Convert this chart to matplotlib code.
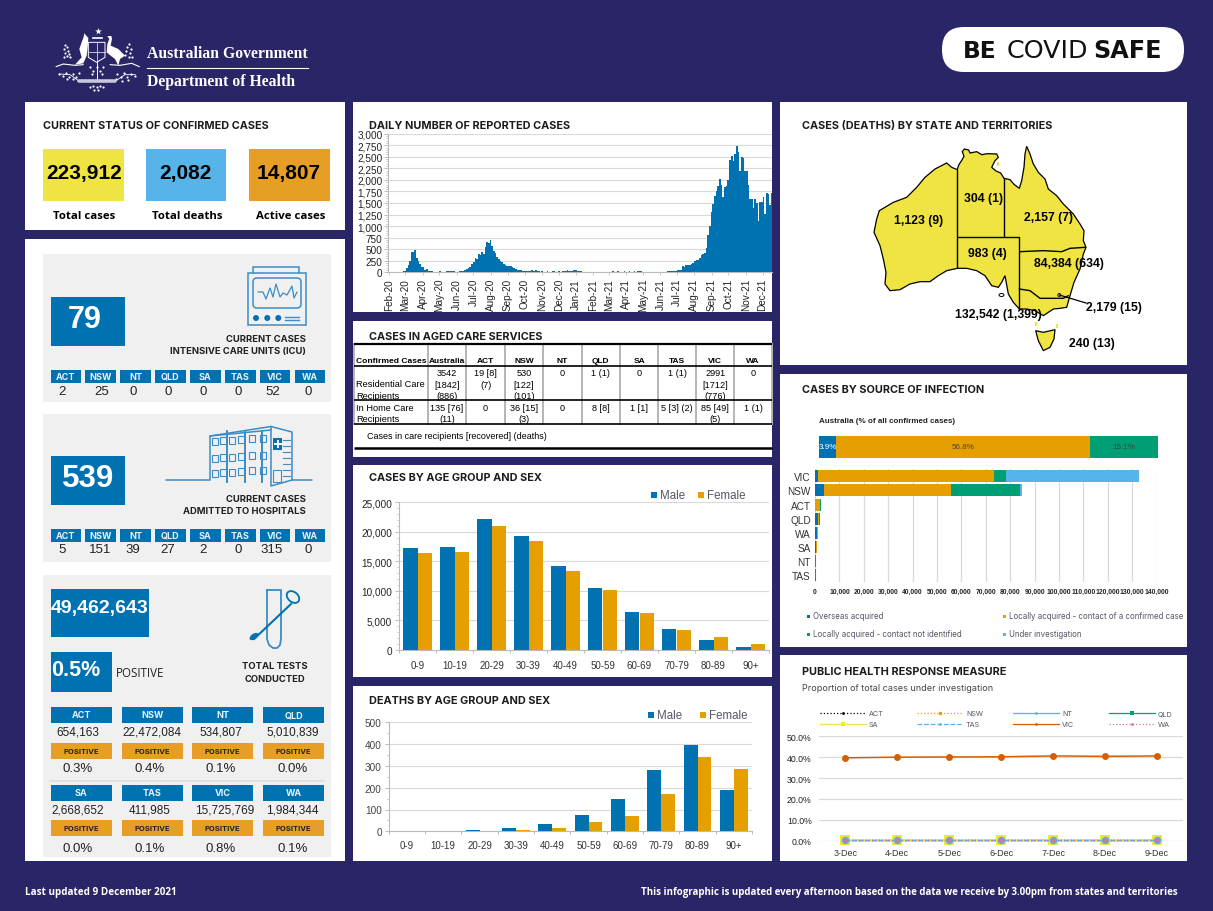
import matplotlib
matplotlib.use("Agg")
import matplotlib.pyplot as plt
import numpy as np
import pandas as pd
from matplotlib.patches import Circle, Ellipse, FancyBboxPatch, Polygon, Rectangle
from matplotlib.ticker import FixedLocator, FuncFormatter, MultipleLocator

W, H = 1213, 912
NAVY = "#2A2566"
BLUE = "#0072B2"
SKY = "#56B4E9"
ORANGE = "#E69F00"
GREEN = "#009E73"
YELLOW = "#F0E442"
AMBER = "#E69F24"
VERM = "#D55E00"
PINK = "#CC79A7"
PANEL_GREY = "#F0F0F0"
GRID = "#D9D9D9"
ICON = "#3A8DC5"
ARIAL = "Liberation Sans"
HEAD = "Inter"

# ── data ──────────────────────────────────────────────────────────────────────
status_values = ["223,912", "2,082", "14,807"]
status_labels = ["Total cases", "Total deaths", "Active cases"]

states = ["ACT", "NSW", "NT", "QLD", "SA", "TAS", "VIC", "WA"]
icu_values = ["2", "25", "0", "0", "0", "0", "52", "0"]
hospital_values = ["5", "151", "39", "27", "2", "0", "315", "0"]
tests_row1 = ["654,163", "22,472,084", "534,807", "5,010,839"]
tests_row2 = ["2,668,652", "411,985", "15,725,769", "1,984,344"]
positive_row1 = ["0.3%", "0.4%", "0.1%", "0.0%"]
positive_row2 = ["0.0%", "0.1%", "0.8%", "0.1%"]

# three-day readings from the daily bars, starting 1 Feb 2020
daily_cases = [
    0, 0, 0, 0, 0, 0, 0, 0, 20, 25,
    90, 160, 250, 440, 430, 490, 310, 250, 190, 120, 110, 60, 70, 30,
    20, 18, 15, 15, 15, 15, 18, 15, 15, 15, 18, 18, 20, 20, 18, 15, 0, 15,
    20, 20, 30, 40, 70, 100, 110, 170, 230,
    310, 290, 390, 380, 440, 400, 550, 650, 640, 690, 560, 470, 420, 340, 290, 250, 220,
    190, 150, 140, 130, 130, 110, 90, 70, 60, 50, 40,
    20, 20, 20, 25, 20, 30, 40, 20, 40, 20, 20, 15, 18, 15, 15, 18, 15, 15, 18, 20, 15, 15,
    18, 15, 20, 18, 20,
    40, 20, 20, 20, 45, 40, 20, 20, 20, 15, 15, 15, 15, 15, 0, 15, 15, 0, 15, 0, 0, 0, 0, 0,
    15, 15, 15, 18, 15, 15, 18, 15, 15, 15, 20, 15, 15, 18, 15, 15, 18, 15, 30, 20, 18, 15,
    15, 15, 15, 15, 0, 0, 0, 0, 15, 15, 15, 0, 15, 15, 18, 20, 18, 20,
    30, 30, 40, 40, 50, 130, 120, 150, 150, 160, 180, 200, 250, 260, 260, 320, 380, 400, 420, 520,
    800, 1000, 1300, 1480, 1660, 1750, 1860, 2030, 1880, 1620, 1840, 1860, 2000, 2430, 2510,
    2400, 2560, 2730, 2600, 2200, 2490, 2470, 2190, 2200, 1900, 1580, 1590, 1400, 1590, 1500,
    1110, 1520, 1530, 1630, 1270, 1710, 1700, 1450, 1720, 1660,
]

age_groups = ["0-9", "10-19", "20-29", "30-39", "40-49", "50-59", "60-69", "70-79", "80-89", "90+"]
cases_male = [17270, 17440, 22180, 19300, 14220, 10500, 6430, 3555, 1690, 510]
cases_female = [16420, 16590, 20990, 18450, 13370, 10160, 6260, 3390, 2200, 1020]
deaths_male = [0, 0, 6, 15, 34, 75, 148, 281, 396, 190]
deaths_female = [0, 0, 1, 6, 15, 43, 70, 171, 341, 286]

source_labels = ["Overseas acquired", "Locally acquired - contact of a confirmed case",
                 "Locally acquired - contact not identified", "Under investigation"]
national_pct = [3.9, 56.8, 15.1]
source_states = ["VIC", "NSW", "ACT", "QLD", "WA", "SA", "NT", "TAS"]
overseas = [1230, 3690, 100, 1230, 1000, 300, 40, 40]
contact = [72000, 52050, 1780, 550, 100, 520, 20, 20]
not_identified = [5050, 28280, 680, 380, 20, 150, 250, 180]
under_inv = [54500, 820, 0, 0, 0, 0, 0, 0]

days = ["3-Dec", "4-Dec", "5-Dec", "6-Dec", "7-Dec", "8-Dec", "9-Dec"]
vic_pct = [39.7, 40.0, 40.1, 40.2, 40.6, 40.4, 40.6]
other_pct = [0.1, 0.1, 0.1, 0.1, 0.1, 0.1, 0.1]

table_header = ["Confirmed Cases", "Australia", "ACT", "NSW", "NT", "QLD", "SA", "TAS", "VIC", "WA"]
table_residential = ["3542\n[1842]\n(886)", "19 [8]\n(7)", "530\n[122]\n(101)", "0", "1 (1)", "0",
                     "1 (1)", "2991\n[1712]\n(776)", "0"]
table_home = ["135 [76]\n(11)", "0", "36 [15]\n(3)", "0", "8 [8]", "1 [1]", "5 [3] (2)", "85 [49]\n(5)", "1 (1)"]

map_labels = ["304 (1)", "1,123 (9)", "2,157 (7)", "983 (4)", "84,384 (634)", "2,179 (15)",
              "132,542 (1,399)", "240 (13)"]

mainland_trace = [
    (262, 92), (266, 78), (274, 66), (282, 52), (277, 38), (283, 30), (296, 33), (300, 42), (320, 38), (335, 47),
    (352, 44), (380, 45), (385, 55), (375, 65), (365, 85), (378, 96), (392, 102), (402, 118), (420, 122), (432, 136),
    (448, 148), (455, 125), (462, 85), (465, 45), (470, 22), (480, 45), (490, 75), (505, 100), (525, 120), (535, 150),
    (560, 170), (580, 195), (610, 225), (630, 255), (642, 275), (640, 305), (648, 325), (640, 345), (630, 390),
    (612, 430), (600, 470), (590, 505), (570, 508), (550, 510), (520, 530), (495, 515), (470, 510), (448, 510),
    (430, 490), (415, 465), (405, 410), (395, 430), (385, 445), (365, 440), (345, 410), (320, 395), (290, 388),
    (262, 388), (230, 395), (205, 410), (180, 428), (150, 428), (120, 435), (90, 452), (60, 455), (45, 435), (48, 400),
    (40, 360), (30, 320), (12, 280), (20, 240), (28, 215), (70, 190), (110, 175), (140, 145), (165, 115), (195, 90),
    (230, 72), (245, 85),
]
tasmania_trace = [(497, 575), (520, 580), (555, 572), (552, 600), (540, 625), (520, 635), (505, 605)]
border_traces = [
    [(262, 92), (262, 388)],
    [(262, 295), (448, 295), (448, 510)],
    [(402, 118), (402, 295)],
    [(450, 338), (520, 335), (575, 338), (600, 328), (645, 325)],
    [(448, 450), (480, 455), (510, 478), (545, 478), (580, 478), (595, 470)],
]

kangaroo_trace = [(103, 28), (108, 34), (115, 42), (113, 70), (110, 95), (100, 118), (75, 122), (95, 100), (88, 75),
                  (95, 55), (100, 42)]
emu_trace = [(172, 36), (184, 36), (186, 44), (182, 65), (205, 75), (225, 95), (210, 105), (205, 125), (195, 105),
             (182, 95), (170, 85), (172, 60), (178, 45)]
shield_trace = [(115, 55), (165, 55), (165, 100), (140, 115), (115, 100)]
foliage_trace = [
    (44, 62), (50, 70), (42, 76), (54, 80), (46, 88), (58, 90), (50, 96), (60, 100), (42, 100),
    (238, 60), (232, 68), (242, 74), (228, 80), (240, 86), (226, 92), (236, 98), (246, 98),
    (28, 150), (38, 155), (48, 148), (58, 158), (68, 150), (78, 160), (88, 148), (70, 165), (50, 165),
    (200, 150), (212, 160), (222, 148), (232, 158), (244, 150), (256, 155), (215, 170), (235, 168), (198, 165),
    (120, 130), (130, 140), (150, 140), (160, 130), (140, 128), (125, 150), (155, 150),
    (130, 185), (140, 190), (150, 185), (120, 188), (160, 188), (143, 197), (133, 198),
]


def from_crop(points, corner):
    return [(corner[0] + x / 3, corner[1] + y / 3) for x, y in points]


MAP_CORNER = (870, 140)
CREST_CORNER = (50, 25)

fig = plt.figure(figsize=(W / 100, H / 100), dpi=100, facecolor=NAVY)
bg = fig.add_axes([0, 0, 1, 1])
bg.set_xlim(0, W)
bg.set_ylim(H, 0)
bg.axis("off")


def box(x0, y0, x1, y1, color, ax=bg, **kw):
    ax.add_patch(Rectangle((x0, y0), x1 - x0, y1 - y0, facecolor=color, edgecolor="none", **kw))


def txt(x, y, s, size=7, color="black", weight="normal", ha="center", family=ARIAL, **kw):
    return bg.text(x, y, s, fontsize=size, color=color, fontweight=weight, ha=ha, va="center",
                   family=family, **kw)


def heading(x, y, s, size=7.85):
    return txt(x, y, s, size=size, color="#1C1C1C", weight="bold", ha="left", family=HEAD)


def inset(x0, y0, x1, y1):
    return fig.add_axes([x0 / W, 1 - y1 / H, (x1 - x0) / W, (y1 - y0) / H])


def poly(points, **kw):
    bg.plot([p[0] for p in points], [p[1] for p in points], solid_capstyle="round", **kw)


# ── panels ────────────────────────────────────────────────────────────────────
for x0, y0, x1, y1 in [(25, 103, 345, 231), (25, 240, 345, 862),
                       (353, 103, 772, 313), (353, 322, 772, 458), (353, 466, 772, 678), (353, 687, 772, 862),
                       (780, 103, 1187, 366), (780, 375, 1187, 648), (780, 656, 1187, 862)]:
    box(x0, y0, x1, y1, "white")

for y0, y1 in [(255, 403), (415, 563), (576, 858)]:
    box(43, y0, 331, y1, PANEL_GREY)

# ── header ────────────────────────────────────────────────────────────────────
txt(147, 54, "Australian Government", size=11.3, color="white", weight="bold", ha="left", family="Liberation Serif")
bg.plot([147, 308], [68.5, 68.5], color="white", lw=0.8)
txt(147, 82, "Department of Health", size=11.3, color="white", weight="bold", ha="left", family="Liberation Serif")

# crest, only roughly
bg.add_patch(Polygon(from_crop(kangaroo_trace, CREST_CORNER), fc="white", ec="none"))
bg.add_patch(Polygon(from_crop(emu_trace, CREST_CORNER), fc="white", ec="none"))
bg.add_patch(Polygon(from_crop(shield_trace, CREST_CORNER), fc=NAVY, ec="white", lw=0.7))
bg.plot([96.7, 96.7], [43.5, 62], color="white", lw=0.5)
bg.plot([88.5, 105], [53, 53], color="white", lw=0.5)
bg.scatter([97.5], [32], marker="*", s=26, color="white", lw=0)
bg.plot([93, 102], [39.3, 39.3], color="white", lw=1.2)
bg.scatter(*zip(*from_crop(foliage_trace, CREST_CORNER)), s=2.5, color="white", lw=0)
poly(from_crop([(18, 128), (40, 120), (75, 124), (100, 122)], CREST_CORNER), color="white", lw=0.8)
poly(from_crop([(180, 122), (210, 124), (245, 118), (268, 128)], CREST_CORNER), color="white", lw=0.8)
poly(from_crop([(28, 150), (60, 152), (88, 172)], CREST_CORNER), color="white", lw=0.6)
poly(from_crop([(256, 152), (225, 152), (195, 172)], CREST_CORNER), color="white", lw=0.6)
poly(from_crop([(140, 115), (140, 165)], CREST_CORNER), color="white", lw=0.7)
poly(from_crop([(88, 172), (195, 172)], CREST_CORNER), color="#C9C7DC", lw=2.6)

bg.add_patch(FancyBboxPatch((942, 28), 242, 45, boxstyle="round,pad=0,rounding_size=22", facecolor="white", edgecolor="none"))
txt(963, 51, "BE", size=16.8, weight="bold", ha="left", family="DejaVu Sans", color="#111111")
txt(1007, 51, "COVID", size=18.3, ha="left", family="DejaVu Sans", color="#111111")
txt(1162, 51, "SAFE", size=17.2, weight="bold", ha="right", family="DejaVu Sans", color="#111111")

# ── current status ────────────────────────────────────────────────────────────
heading(43, 126, "CURRENT STATUS OF CONFIRMED CASES")
for (x0, x1), col, val, lab, ty in zip([(43, 124), (146, 226), (249, 330)], [YELLOW, SKY, AMBER],
                                       status_values, status_labels, [174, 173, 173]):
    box(x0, 150, x1, 202, col)
    txt((x0 + x1) / 2 + (1 if col == YELLOW else -1), ty, val, size=15, weight="bold")
    txt((x0 + x1) / 2 + 1, 217, lab, size=8.2, weight="bold", family="Open Sans")

# ── ICU / hospital blocks ─────────────────────────────────────────────────────
tab_x = [50.7, 85.3, 120.3, 155, 190, 225, 259.7, 294.7]
icu_val_x = [62, 102, 133, 168, 203, 238, 273, 308]
hosp_val_x = [62, 100, 133, 168, 203, 238, 272, 308]

box(51, 298, 125, 347, BLUE)
txt(85, 320, "79", size=22, color="white", weight="bold")
txt(306, 339.5, "CURRENT CASES", size=6.8, color="#222222", weight="bold", ha="right", family=HEAD)
txt(306, 352, "INTENSIVE CARE UNITS (ICU)", size=6.8, color="#222222", weight="bold", ha="right", family=HEAD)
for x, vx, s, v in zip(tab_x, icu_val_x, states, icu_values):
    box(x, 371, x + 30.7, 384, BLUE)
    txt(x + 15.3, 377.5, s, size=6.5, color="#E8F2F8", weight="bold", family=HEAD)
    txt(vx, 392, v, size=9.5, color="#222222")

box(51, 457, 125, 506, BLUE)
txt(88, 479, "539", size=22.5, color="white", weight="bold")
txt(306, 499.5, "CURRENT CASES", size=6.8, color="#222222", weight="bold", ha="right", family=HEAD)
txt(306, 512, "ADMITTED TO HOSPITALS", size=6.8, color="#222222", weight="bold", ha="right", family=HEAD)
for x, vx, s, v in zip(tab_x, hosp_val_x, states, hospital_values):
    box(x, 530, x + 30.7, 543, BLUE)
    txt(x + 15.3, 536.5, s, size=6.5, color="#E8F2F8", weight="bold", family=HEAD)
    txt(vx, 550, v, size=9.5, color="#222222")

# monitor icon
bg.add_patch(Rectangle((247.7, 273.5), 58.3, 52.5, fc="none", ec=ICON, lw=1.1))
poly([(253, 273.5), (253, 267.5), (299, 267.5), (299, 273.5)], color=ICON, lw=1.1)
bg.add_patch(FancyBboxPatch((253, 279), 48, 30, boxstyle="round,pad=0,rounding_size=4", fc="none", ec=ICON, lw=1.1))
poly([(258, 293), (263, 293), (266, 300), (270, 289), (273, 298), (276, 285), (280, 298), (283, 294), (287, 296),
      (292, 287), (294, 299), (297, 293)], color=ICON, lw=0.9)
for cx in [256, 267.3, 278.3]:
    bg.add_patch(Circle((cx, 319), 3, fc=BLUE, ec="none"))
bg.plot([285, 299], [317.5, 317.5], color=ICON, lw=1)
bg.plot([285, 299], [320.8, 320.8], color=ICON, lw=1)

# hospital icon
poly([(166, 481), (210, 481), (210, 437), (271, 427.5), (292, 433), (292, 481), (312, 481)], color=ICON, lw=1.1)
poly([(271, 427.5), (271, 487), (292, 481)], color=ICON, lw=1.1)
poly([(210, 437), (271, 431)], color=ICON, lw=1.1)
for vx in [227, 245, 262]:
    bg.plot([vx, vx], [432, 483], color=ICON, lw=1.4)
for wx in [212, 220, 229, 238, 249, 260]:
    for wy in [439, 456, 471]:
        bg.add_patch(Rectangle((wx, wy - (wx - 212) * 0.07), 5.5, 7, fc="none", ec=ICON, lw=0.8))
box(273, 439, 282, 451, BLUE)
bg.plot([277.5, 277.5], [442, 448], color="white", lw=1.4)
bg.plot([274.5, 280.5], [445, 445], color="white", lw=1.4)
for wy in [441, 447, 453, 459, 465, 471, 477]:
    bg.plot([283, 290], [wy, wy], color=ICON, lw=0.8)
bg.add_patch(Rectangle((272.5, 471), 8, 12, fc="none", ec=ICON, lw=0.8))

# ── tests block ───────────────────────────────────────────────────────────────
box(51, 590, 149, 638, BLUE)
txt(100, 609, "49,462,643", size=14, color="white", weight="bold")
box(51, 653, 112, 693, BLUE)
txt(76, 671, "0.5%", size=15.5, color="white", weight="bold")
txt(116, 674, "POSITIVE", size=8.3, color="#222222", ha="left", family="Open Sans")
txt(275, 667, "TOTAL TESTS", size=6.8, color="#222222", weight="bold", family=HEAD)
txt(275, 679.5, "CONDUCTED", size=6.8, color="#222222", weight="bold", family=HEAD)

# swab icon
poly([(267, 591), (267, 640), (269, 646), (273, 649), (277, 649), (280, 646), (281, 640), (281, 591), (267, 591)],
     color=ICON, lw=1.3)
bg.plot([254, 291], [640, 605], color=BLUE, lw=1.5)
bg.add_patch(Ellipse((254, 637.5), 10, 5.5, angle=-35, fc=BLUE, ec="none"))
bg.add_patch(Ellipse((293, 598), 14, 10, angle=40, fc=PANEL_GREY, ec=BLUE, lw=1.3))

tile_x = [50.7, 121.7, 192.3, 263.3]
row1_val_x = [78, 151.7, 221, 292.7]
row2_val_x = [78, 149.7, 225, 292.7]
pct_x = [78, 149.7, 221, 292.7]
for x, s, v, p, vx, px_ in zip(tile_x, states[:4], tests_row1, positive_row1, row1_val_x, pct_x):
    box(x, 708, x + 61, 724, BLUE)
    txt(x + 30.5, 716, s, size=6.5, color="#E8F2F8", weight="bold", family=HEAD)
    txt(vx, 733, v, size=8.5, color="#222222")
    box(x, 744, x + 61, 760, AMBER)
    txt(x + 30.5, 752, "POSITIVE", size=5.5, color="#222222", family=HEAD, weight="bold")
    txt(px_, 769, p, size=9.5, color="#222222")
bg.plot([50, 324], [782, 782], color="#DDDDDD", lw=1.2)
for x, s, v, p, vx, px_ in zip(tile_x, states[4:], tests_row2, positive_row2, row2_val_x, pct_x):
    box(x, 786, x + 61, 802, BLUE)
    txt(x + 30.5, 794, s, size=6.5, color="#E8F2F8", weight="bold", family=HEAD)
    txt(vx, 811, v, size=8.5, color="#222222")
    box(x, 821, x + 61, 837, AMBER)
    txt(x + 30.5, 829, "POSITIVE", size=5.5, color="#222222", family=HEAD, weight="bold")
    txt(px_, 849, p, size=9.5, color="#222222")

# ── daily cases ───────────────────────────────────────────────────────────────
heading(369, 126, "DAILY NUMBER OF REPORTED CASES")
ax = inset(388, 134.7, 772, 273.3)
dates = pd.date_range("2020-02-01", periods=len(daily_cases), freq="3D")
ax.bar(dates, daily_cases, width=3.3, color=BLUE, lw=0, align="edge", zorder=3, antialiased=False)
ax.set_xlim(pd.Timestamp("2020-01-30"), pd.Timestamp("2020-01-30") + pd.Timedelta(days=688))
ax.set_ylim(0, 3000)
month_ticks = pd.date_range("2020-02-01", "2021-12-01", freq="MS")
ax.set_xticks(month_ticks)
ax.set_xticklabels([d.strftime("%b-%y") for d in month_ticks], rotation=90, fontsize=7.2, family=ARIAL, color="#222222")
ax.yaxis.set_major_locator(MultipleLocator(250))
ax.yaxis.set_minor_locator(MultipleLocator(50))
ax.yaxis.set_major_formatter(FuncFormatter(lambda v, _: f"{int(v):,}"))
ax.tick_params(axis="y", labelsize=7.2, length=3, width=0.7, color="#BBBBBB", labelcolor="#222222", pad=1)
ax.tick_params(axis="y", which="minor", length=1.5, width=0.6, color="#BBBBBB")
ax.tick_params(axis="x", length=2, width=0.6, color="#BBBBBB", pad=2)
for lab in ax.get_yticklabels():
    lab.set_family(ARIAL)
ax.grid(axis="y", color=GRID, lw=0.8, zorder=0)
for s in ["top", "right"]:
    ax.spines[s].set_visible(False)
ax.spines["left"].set_color("#BBBBBB")
ax.spines["bottom"].set_color("#BBBBBB")

# ── aged care table ───────────────────────────────────────────────────────────
heading(369, 337, "CASES IN AGED CARE SERVICES")
col_edges = [354, 427.7, 466.3, 505, 543, 581.5, 620, 658.3, 696.3, 734, 772]
for xv in col_edges:
    bg.plot([xv, xv], [345, 425], color="#B5B5B5", lw=1.4, zorder=2)
for yv, lw in [(345, 1.6), (367, 1.2), (401.3, 1.2), (424.7, 1.2), (448.7, 1.8)]:
    bg.plot([354, 772], [yv, yv], color="black", lw=lw, zorder=3, solid_capstyle="butt")
txt(355.5, 362, table_header[0], size=6.1, weight="bold", ha="left")
for i, s in enumerate(table_header[1:]):
    txt((col_edges[i + 1] + col_edges[i + 2]) / 2, 362, s, size=6, weight="bold")
txt(356, 385, "Residential Care", size=6.7, ha="left")
txt(356, 397, "Recipients", size=6.7, ha="left")
txt(356, 409, "In Home Care", size=6.7, ha="left")
txt(356, 420, "Recipients", size=6.7, ha="left")
for i, s in enumerate(table_residential):
    for j, part in enumerate(s.split("\n")):
        txt((col_edges[i + 1] + col_edges[i + 2]) / 2, 373.5 + j * 11.7, part, size=6.6)
for i, s in enumerate(table_home):
    for j, part in enumerate(s.split("\n")):
        txt((col_edges[i + 1] + col_edges[i + 2]) / 2, 409 + j * 11, part, size=6.6)
txt(367, 437, "Cases in care recipients [recovered] (deaths)", size=6.5, ha="left")


# ── age / sex bars ────────────────────────────────────────────────────────────
def age_chart(ax, male, female, ymax, major, minor, fmt_color, label_pad):
    xs = np.arange(len(age_groups))
    ax.bar(xs - 0.19, male, width=0.38, color=BLUE, zorder=3, lw=0)
    ax.bar(xs + 0.19, female, width=0.38, color=ORANGE, zorder=3, lw=0)
    ax.set_xlim(-0.5, len(age_groups) - 0.5)
    ax.set_ylim(0, ymax)
    ax.xaxis.set_major_locator(FixedLocator(np.arange(-0.5, len(age_groups))))
    ax.xaxis.set_minor_locator(FixedLocator(xs))
    ax.set_xticklabels([])
    ax.set_xticklabels(age_groups, minor=True, fontsize=7, family=ARIAL, color="#333333")
    ax.tick_params(axis="x", which="minor", length=0, pad=label_pad)
    ax.tick_params(axis="x", which="major", length=2.5, width=0.7, color="#BBBBBB")
    ax.yaxis.set_major_locator(MultipleLocator(major))
    ax.yaxis.set_minor_locator(MultipleLocator(minor))
    ax.yaxis.set_major_formatter(FuncFormatter(lambda v, _: f"{int(v):,}"))
    ax.tick_params(axis="y", labelsize=7.2, length=3, width=0.7, color="#BBBBBB", labelcolor=fmt_color, pad=2)
    ax.tick_params(axis="y", which="minor", length=1.5, width=0.6, color="#BBBBBB")
    for lab in ax.get_yticklabels():
        lab.set_family(ARIAL)
    ax.grid(axis="y", color=GRID, lw=0.8, zorder=0)
    for s in ["top", "right"]:
        ax.spines[s].set_visible(False)
    ax.spines["left"].set_color("#BBBBBB")
    ax.spines["bottom"].set_color("#BBBBBB")


heading(369, 478, "CASES BY AGE GROUP AND SEX")
age_chart(inset(399, 503.3, 769, 651), cases_male, cases_female, 25000, 5000, 1000, "#222222", 7.5)
box(651, 493, 657, 499, BLUE)
txt(660, 496.5, "Male", size=8.3, color="#555566", ha="left")
box(698, 493, 704, 499, ORANGE)
txt(707, 496.5, "Female", size=8.3, color="#555566", ha="left")

heading(369, 701, "DEATHS BY AGE GROUP AND SEX")
age_chart(inset(388.7, 723.3, 752, 832.3), deaths_male, deaths_female, 500, 100, 50, "#444444", 6)
box(648, 713, 654, 719, BLUE)
txt(657, 716, "Male", size=8.3, color="#555566", ha="left")
box(700, 713, 706, 719, ORANGE)
txt(709, 716, "Female", size=8.3, color="#555566", ha="left")

# ── map ───────────────────────────────────────────────────────────────────────
heading(802, 126, "CASES (DEATHS) BY STATE AND TERRITORIES")
bg.add_patch(Polygon(from_crop(mainland_trace, MAP_CORNER), closed=True, fc=YELLOW, ec="black", lw=0.9, zorder=2))
bg.add_patch(Polygon(from_crop(tasmania_trace, MAP_CORNER), closed=True, fc=YELLOW, ec="black", lw=0.9, zorder=2))
for line in border_traces:
    poly(from_crop(line, MAP_CORNER), color="black", lw=1.0, zorder=3)
for ix, iy in from_crop([(383, 75), (497, 555), (560, 560)], MAP_CORNER):
    box(ix - 1, iy - 2, ix + 1.5, iy + 2, YELLOW, zorder=2)
bg.add_patch(Ellipse((1001.5, 296), 5, 3, fc="none", ec="black", lw=0.7, zorder=3))
bg.add_patch(Circle((1059.3, 296), 1.5, fc="none", ec="black", lw=0.6, zorder=3))
bg.plot([1059.3, 1086], [296, 304], color="black", lw=0.9, zorder=3)
map_label_xy = [(983, 199), (919, 221), (1048, 218), (987, 254), (1069, 264), (1114, 308), (998, 315), (1092, 344)]
for (lx, ly), s in zip(map_label_xy, map_labels):
    txt(lx, ly, s, size=8.8, weight="bold", zorder=5)

# ── source of infection ───────────────────────────────────────────────────────
heading(802, 390, "CASES BY SOURCE OF INFECTION")
txt(819, 422, "Australia (% of all confirmed cases)", size=5.8, weight="bold", ha="left", color="#222222")
ax = inset(819, 437, 1158, 459)
left = 0
for v, col, tc in zip(national_pct, [BLUE, ORANGE, GREEN], ["white", "#444444", "#444444"]):
    ax.barh([0], [v], left=left, color=col, height=1, lw=0)
    ax.text(left + v / 2, 0, f"{v}%", color=tc, fontsize=5.8, ha="center", va="center", family=ARIAL)
    left += v
ax.set_xlim(0, sum(national_pct))
ax.set_ylim(-0.5, 0.5)
ax.axis("off")

ax = inset(815, 470.3, 1156.7, 583.3)
ys = np.arange(len(source_states))
lefts = np.zeros(len(source_states))
for vals, col in zip([overseas, contact, not_identified, under_inv], [BLUE, ORANGE, GREEN, SKY]):
    ax.barh(ys, vals, left=lefts, color=col, height=0.85, lw=0, zorder=3)
    lefts += np.array(vals)
ax.set_ylim(len(source_states) - 0.5, -0.5)
ax.set_xlim(0, 140000)
ax.set_yticks(ys)
ax.set_yticklabels(source_states, fontsize=7.2, family=ARIAL, color="#333333")
ax.xaxis.set_major_locator(MultipleLocator(10000))
ax.xaxis.set_major_formatter(FuncFormatter(lambda v, _: f"{int(v):,}"))
ax.tick_params(axis="x", labelsize=4.9, length=0, labelcolor="#222222", pad=4)
ax.tick_params(axis="y", length=0, pad=3)
for lab in ax.get_xticklabels():
    lab.set_family(ARIAL)
    lab.set_fontweight("bold")
ax.grid(axis="x", color=GRID, lw=0.9, zorder=0)
for s in ax.spines.values():
    s.set_visible(False)

legend_xy = [(808, 617), (1004, 617), (808, 635), (1004, 635)]
for (lx, ly), s, col in zip(legend_xy, source_labels, [BLUE, ORANGE, GREEN, SKY]):
    box(lx - 1.5, ly - 1.5, lx + 2, ly + 2, col)
    txt(lx + 5, ly, s, size=5.7, color="#555566", ha="left", family=HEAD)

# ── public health response ────────────────────────────────────────────────────
heading(802, 672, "PUBLIC HEALTH RESPONSE MEASURE")
txt(802, 688.5, "Proportion of total cases under investigation", size=6.5, color="#444444", ha="left", family=HEAD)
ax = inset(819.3, 737.3, 1183, 841.7)
xs = np.arange(len(days))
styles = [("ACT", "black", ":", "o", 3), ("NSW", ORANGE, ":", "o", 3), ("NT", SKY, "-", "o", 3), ("QLD", GREEN, "-", "s", 4),
          ("SA", YELLOW, "-", "s", 6.5), ("TAS", SKY, "--", "o", 5.5), ("WA", PINK, ":", "o", 3.5)]
for name, col, ls, mk, ms in styles:
    ax.plot(xs, other_pct, color=col, ls=ls, marker=mk, ms=ms, lw=0.9, mew=0, zorder=3, clip_on=False)
ax.plot(xs, vic_pct, color=VERM, marker="o", ms=5, lw=1.1, mew=0, zorder=4)
ax.set_xlim(-0.5, 6.5)
ax.set_ylim(0, 50)
ax.set_xticks(xs)
ax.set_xticklabels(days, fontsize=6.5, family=ARIAL, color="#333333")
ax.yaxis.set_major_locator(MultipleLocator(10))
ax.yaxis.set_major_formatter(FuncFormatter(lambda v, _: f"{v:.1f}%"))
ax.tick_params(axis="both", length=0)
ax.tick_params(axis="y", labelsize=6.3, pad=5.5, labelcolor="#222222")
ax.tick_params(axis="x", pad=5)
for lab in ax.get_yticklabels():
    lab.set_family(ARIAL)
ax.grid(axis="y", color=GRID, lw=0.9, zorder=0)
for s in ax.spines.values():
    s.set_visible(False)

leg_cols = [(820, 866, 869), (917.3, 962.7, 966), (1013, 1059, 1062), (1109, 1155, 1158)]
leg_items = [[("ACT", "black", ":", "o", 2), ("NSW", ORANGE, ":", "o", 2.5), ("NT", SKY, "-", "o", 2), ("QLD", GREEN, "-", "s", 2.5)],
             [("SA", YELLOW, "-", "s", 2.5), ("TAS", SKY, "--", "o", 2), ("VIC", VERM, "-", "o", 2), ("WA", PINK, ":", "o", 2)]]
for ly, row in zip([714.3, 725.3], leg_items):
    for (x0, x1, tx), (name, col, ls, mk, ms) in zip(leg_cols, row):
        bg.plot([x0, x1], [ly, ly], color=col, ls=ls, lw=0.9)
        bg.plot([(x0 + x1) / 2], [ly], color=col, marker=mk, ms=ms, mew=0)
        txt(tx, ly, name, size=5.2, color="#555566", ha="left", family=HEAD)

# ── footer ────────────────────────────────────────────────────────────────────
txt(25, 893, "Last updated 9 December 2021", size=7.15, color="white", weight="bold", ha="left", family="Open Sans")
txt(1178, 893, "This infographic is updated every afternoon based on the data we receive by 3.00pm from states and territories",
    size=7.0, color="white", weight="bold", ha="right", family="Open Sans")

fig.savefig("out.png", dpi=100, facecolor=NAVY)
